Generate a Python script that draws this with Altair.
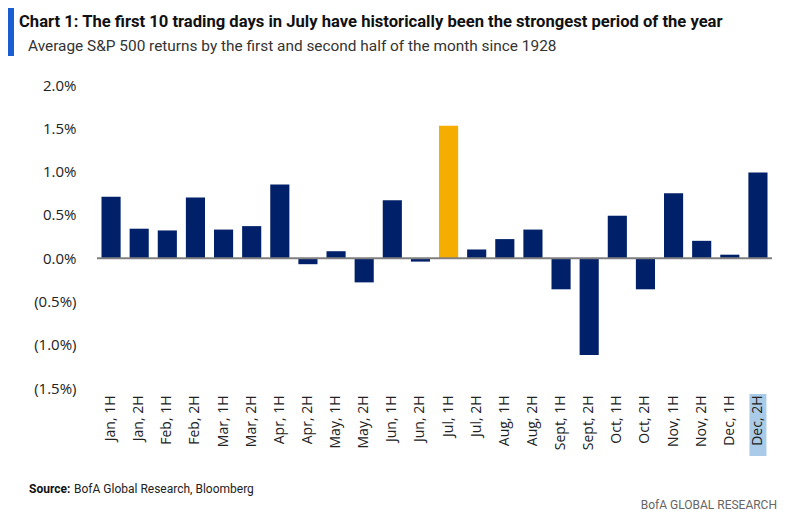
import altair as alt
import pandas as pd

labels = ["Jan, 1H", "Jan, 2H", "Feb, 1H", "Feb, 2H", "Mar, 1H", "Mar, 2H",
          "Apr, 1H", "Apr, 2H", "May, 1H", "May, 2H", "Jun, 1H", "Jun, 2H",
          "Jul, 1H", "Jul, 2H", "Aug, 1H", "Aug, 2H", "Sept, 1H", "Sept, 2H",
          "Oct, 1H", "Oct, 2H", "Nov, 1H", "Nov, 2H", "Dec, 1H", "Dec, 2H"]
values = [0.71, 0.34, 0.32, 0.70, 0.33, 0.37,
          0.85, -0.07, 0.08, -0.28, 0.67, -0.04,
          1.53, 0.10, 0.22, 0.33, -0.36, -1.12,
          0.49, -0.36, 0.75, 0.20, 0.04, 0.99]
y_ticks = [-1.5, -1.0, -0.5, 0.0, 0.5, 1.0, 1.5, 2.0]
highlight = "Jul, 1H"

df = pd.DataFrame({"label": labels, "value": values})

W, H = 675, 303
NAVY = "#002169"
GOLD = "#f5ad00"
LABEL_FONT = "Open Sans"
HEAD_FONT = "Roboto"

xenc = alt.X("label:N", sort=labels, title=None,
             scale=alt.Scale(paddingInner=0.32, paddingOuter=0.16),
             axis=alt.Axis(labelAngle=-90, labelAlign="right", labelBaseline="middle",
                           labelPadding=7, ticks=False, domain=False, zindex=1,
                           labelFont=LABEL_FONT, labelFontSize=14, labelColor="#222222"))

yenc = alt.Y("value:Q", title=None,
             scale=alt.Scale(domain=[-1.5, 2.0], nice=False, zero=False),
             axis=alt.Axis(values=y_ticks, grid=False, ticks=False, domain=False,
                           labelPadding=21, labelFont=LABEL_FONT, labelFontSize=15,
                           labelColor="#222222",
                           labelExpr="datum.value < 0 ? '(' + format(-datum.value, '.1f') + '%)' : format(datum.value, '.1f') + '%'"))

hl = alt.Chart(pd.DataFrame({"label": ["Dec, 2H"]})).mark_bar(
    color="#a9cbe8", size=17).encode(
    x=alt.X("label:N", sort=labels), y=alt.value(309), y2=alt.value(371))

bars = alt.Chart(df).mark_bar().encode(
    x=xenc, y=yenc,
    color=alt.condition(alt.datum.label == highlight, alt.value(GOLD), alt.value(NAVY)))

zero = alt.Chart(pd.DataFrame({"z": [0]})).mark_rule(color="#7f7f7f", strokeWidth=2).encode(
    y="z:Q", x=alt.value(0), x2=alt.value(W))

def txt(text, x, y, size, bold=False, color="#000000", align="left", font=HEAD_FONT):
    return alt.Chart(pd.DataFrame({"t": [text]})).mark_text(
        align=align, baseline="middle", fontSize=size, font=font,
        fontWeight="bold" if bold else "normal", color=color).encode(
        text="t:N", x=alt.value(x), y=alt.value(y))

bluebar = alt.Chart(pd.DataFrame({"a": [0]})).mark_rect(color="#1a5cd1").encode(
    x=alt.value(-89), x2=alt.value(-83), y=alt.value(-77), y2=alt.value(-29))

title = txt("Chart 1: The first 10 trading days in July have historically been the strongest period of the year",
            -78, -63, 16.6, bold=True, color="#111111")
subtitle = txt("Average S&P 500 returns by the first and second half of the month since 1928",
               -69, -39, 15.4, color="#333333")
src1 = txt("Source:", -68, 404, 12, bold=True, color="#111111")
src2 = txt("BofA Global Research, Bloomberg", -23, 404, 12, color="#222222")
brand = txt("BofA GLOBAL RESEARCH", 680, 420, 12, color="#666666", align="right")

chart = alt.layer(hl, bars, zero, bluebar, title, subtitle, src1, src2, brand).properties(
    width=W, height=H,
    autosize=alt.AutoSizeParams(type="none"),
    padding={"left": 97, "top": 85, "right": 17, "bottom": 134},
    background="white"
).configure_view(stroke=None)

chart.save("out.html", embed_options={"renderer": "svg", "actions": False})
